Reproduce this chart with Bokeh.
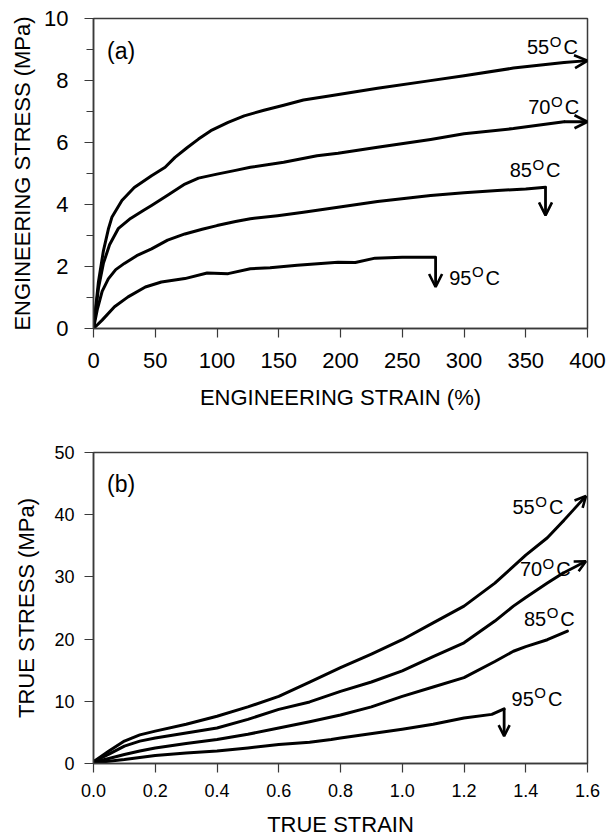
from bokeh.plotting import figure
from bokeh.layouts import column
from bokeh.models import Range1d, FixedTicker, PrintfTickFormatter, Arrow, OpenHead, Label
from bokeh.core.properties import value
from bokeh.embed import file_html
from bokeh.resources import INLINE

FONT = "Liberation Sans"
AXIS_COLOR = "#3a3a3a"

# ---- (a) engineering stress vs engineering strain ----
eng_strain_55 = [0, 4, 8, 12, 15, 23, 33, 47, 58, 66, 76, 85, 95, 109, 122, 138, 154, 170, 192, 230, 270, 300, 340, 381]
eng_stress_55 = [0, 1.5, 2.5, 3.2, 3.6, 4.13, 4.55, 4.93, 5.2, 5.52, 5.84, 6.11, 6.38, 6.65, 6.86, 7.04, 7.2, 7.37, 7.51, 7.75, 7.98, 8.15, 8.4, 8.58]

eng_strain_70 = [0, 4, 8, 13, 20, 30, 40, 47, 60, 74, 85, 100, 115, 127, 154, 181, 198, 230, 273, 300, 340, 381]
eng_stress_70 = [0, 1.3, 2.1, 2.7, 3.22, 3.55, 3.8, 3.97, 4.3, 4.66, 4.85, 4.98, 5.1, 5.2, 5.36, 5.57, 5.65, 5.85, 6.1, 6.28, 6.45, 6.67]

eng_strain_85 = [0, 3, 7, 12, 18, 25, 35, 47, 60, 74, 88, 100, 115, 127, 149, 170, 198, 230, 273, 300, 327, 350, 366]
eng_stress_85 = [0, 0.6, 1.2, 1.6, 1.9, 2.1, 2.35, 2.57, 2.85, 3.05, 3.2, 3.32, 3.45, 3.54, 3.64, 3.75, 3.91, 4.1, 4.29, 4.38, 4.45, 4.5, 4.56]

eng_strain_95 = [0, 7, 17, 28, 42, 55, 74, 92, 109, 127, 143, 165, 198, 212, 228, 250, 277]
eng_stress_95 = [0, 0.27, 0.7, 1.02, 1.34, 1.5, 1.61, 1.79, 1.77, 1.93, 1.96, 2.04, 2.14, 2.13, 2.27, 2.3, 2.3]

# ---- (b) true stress vs true strain ----
true_strain_55 = [0.0, 0.05, 0.1, 0.15, 0.2, 0.3, 0.4, 0.5, 0.6, 0.7, 0.8, 0.9, 1.0, 1.1, 1.2, 1.3, 1.4, 1.47, 1.52]
true_stress_55 = [0.3, 2.0, 3.6, 4.6, 5.2, 6.3, 7.6, 9.1, 10.8, 13.1, 15.4, 17.6, 19.9, 22.6, 25.3, 29.0, 33.5, 36.3, 38.9]

true_strain_70 = [0.0, 0.05, 0.1, 0.15, 0.2, 0.3, 0.4, 0.5, 0.6, 0.7, 0.8, 0.9, 1.0, 1.1, 1.2, 1.3, 1.36, 1.4, 1.47, 1.52]
true_stress_70 = [0.3, 1.5, 2.8, 3.6, 4.1, 4.9, 5.7, 7.1, 8.7, 9.9, 11.6, 13.1, 14.9, 17.2, 19.4, 22.9, 25.3, 26.7, 29.0, 30.6]

true_strain_85 = [0.0, 0.05, 0.1, 0.15, 0.2, 0.3, 0.4, 0.5, 0.6, 0.7, 0.8, 0.9, 1.0, 1.1, 1.2, 1.3, 1.36, 1.4, 1.47, 1.535]
true_stress_85 = [0.2, 0.8, 1.45, 2.0, 2.5, 3.2, 3.86, 4.7, 5.7, 6.7, 7.8, 9.1, 10.8, 12.3, 13.8, 16.4, 18.05, 18.8, 19.9, 21.3]

true_strain_95 = [0.0, 0.1, 0.2, 0.3, 0.4, 0.5, 0.6, 0.7, 0.77, 0.8, 0.88, 1.0, 1.1, 1.2, 1.29, 1.33]
true_stress_95 = [0.1, 0.64, 1.3, 1.7, 2.0, 2.5, 3.05, 3.4, 3.86, 4.1, 4.66, 5.5, 6.3, 7.3, 7.9, 8.8]

temperatures = ["55", "70", "85", "95"]

# curve-end markers: (x_start, y_start, x_end, y_end)
eng_arrows = [(381, 8.58, 400, 8.64), (381, 6.67, 400, 6.67), (366, 4.56, 366, 3.65), (277, 2.3, 277, 1.34)]
true_arrows = [(1.52, 38.9, 1.595, 43.0), (1.52, 30.6, 1.595, 32.5), (1.33, 8.8, 1.33, 4.4)]

# temperature tags: left edge x, middle y
eng_tag_x = [351, 352, 337, 288]
eng_tag_y = [9.07, 7.14, 5.1, 1.64]
true_tag_x = [1.357, 1.381, 1.394, 1.354]
true_tag_y = [41.2, 31.2, 23.3, 10.45]


def style_axes(p, tick_size, label_size, tick_standoff_x, tick_standoff_y, title_standoff_x, title_standoff_y):
    p.outline_line_color = AXIS_COLOR
    p.outline_line_width = 1.5
    p.grid.visible = False
    p.background_fill_color = "white"
    p.border_fill_color = "white"
    for ax in (p.xaxis[0], p.yaxis[0]):
        ax.axis_line_color = AXIS_COLOR
        ax.axis_line_width = 1.5
        ax.major_tick_line_color = AXIS_COLOR
        ax.minor_tick_line_color = AXIS_COLOR
        ax.major_tick_line_width = 1.2
        ax.minor_tick_line_width = 1.2
        ax.major_tick_in = 0
        ax.major_tick_out = 9
        ax.minor_tick_in = 0
        ax.minor_tick_out = 7
        ax.major_label_text_font = FONT
        ax.major_label_text_font_size = f"{tick_size}px"
        ax.major_label_text_color = "black"
        ax.axis_label_text_font = FONT
        ax.axis_label_text_font_size = f"{label_size}px"
        ax.axis_label_text_font_style = "normal"
        ax.axis_label_text_color = "black"
    p.xaxis[0].major_label_standoff = tick_standoff_x
    p.yaxis[0].major_label_standoff = tick_standoff_y
    p.xaxis[0].axis_label_standoff = title_standoff_x
    p.yaxis[0].axis_label_standoff = title_standoff_y


def temp_tag(p, x, y, deg, main=20, sup=15):
    digits_w = 0.556 * main * len(deg)
    common = dict(text_font=value(FONT), text_color="black", text_align="left", text_baseline="middle")
    p.text(x=[x], y=[y], text=[deg], text_font_size=f"{main}px", **common)
    p.text(x=[x], y=[y], text=["O"], x_offset=digits_w + 0.5, y_offset=-6, text_font_size=f"{sup}px", **common)
    p.text(x=[x], y=[y], text=["C"], x_offset=digits_w + 0.778 * sup + 2.5, text_font_size=f"{main}px", **common)


def end_arrow(p, xs, ys, xe, ye, size=11):
    p.add_layout(Arrow(end=OpenHead(size=size, line_width=2.6, line_color="black"),
                       x_start=xs, y_start=ys, x_end=xe, y_end=ye,
                       line_width=2.8, line_color="black"))


# ---------- panel (a) ----------
pa = figure(width=607, height=420, output_backend="svg", toolbar_location=None,
            x_range=Range1d(0, 400), y_range=Range1d(0, 10),
            min_border_left=93, min_border_right=20, min_border_top=18, min_border_bottom=92,
            x_axis_label="ENGINEERING STRAIN (%)", y_axis_label="ENGINEERING STRESS (MPa)")
style_axes(pa, 22, 22, 15, 16, 14, 6)
pa.xaxis[0].ticker = FixedTicker(ticks=[0, 50, 100, 150, 200, 250, 300, 350, 400], minor_ticks=[])
pa.yaxis[0].ticker = FixedTicker(ticks=[0, 2, 4, 6, 8, 10], minor_ticks=[1, 3, 5, 7, 9])

for xs, ys in [(eng_strain_55, eng_stress_55), (eng_strain_70, eng_stress_70),
               (eng_strain_85, eng_stress_85), (eng_strain_95, eng_stress_95)]:
    pa.line(xs, ys, line_color="black", line_width=3, line_join="round", line_cap="round")
for a in eng_arrows:
    end_arrow(pa, *a, size=13)
for t, x, y in zip(temperatures, eng_tag_x, eng_tag_y):
    temp_tag(pa, x, y, t)
pa.add_layout(Label(x=11, y=8.96, text="(a)", text_font=FONT, text_font_size="23px",
                    text_baseline="middle", text_align="left", text_color="black"))

# ---------- panel (b) ----------
pb = figure(width=607, height=420, output_backend="svg", toolbar_location=None,
            x_range=Range1d(0, 1.6), y_range=Range1d(0, 50),
            min_border_left=93, min_border_right=20, min_border_top=32, min_border_bottom=77,
            x_axis_label="TRUE STRAIN", y_axis_label="TRUE STRESS (MPa)")
style_axes(pb, 18, 22, 11, 10, 12, 12)
pb.xaxis[0].ticker = FixedTicker(ticks=[0, 0.2, 0.4, 0.6, 0.8, 1.0, 1.2, 1.4, 1.6], minor_ticks=[])
pb.xaxis[0].formatter = PrintfTickFormatter(format="%.1f")
pb.yaxis[0].ticker = FixedTicker(ticks=[0, 10, 20, 30, 40, 50], minor_ticks=[])

for xs, ys in [(true_strain_55, true_stress_55), (true_strain_70, true_stress_70),
               (true_strain_85, true_stress_85), (true_strain_95, true_stress_95)]:
    pb.line(xs, ys, line_color="black", line_width=3, line_join="round", line_cap="round")
for a in true_arrows:
    end_arrow(pb, *a, size=11)
for t, x, y in zip(temperatures, true_tag_x, true_tag_y):
    temp_tag(pb, x, y, t)
pb.add_layout(Label(x=0.044, y=45.0, text="(b)", text_font=FONT, text_font_size="23px",
                    text_baseline="middle", text_align="left", text_color="black"))

layout = column(pa, pb, spacing=0)
open("out.html", "w").write(file_html(layout, INLINE))
